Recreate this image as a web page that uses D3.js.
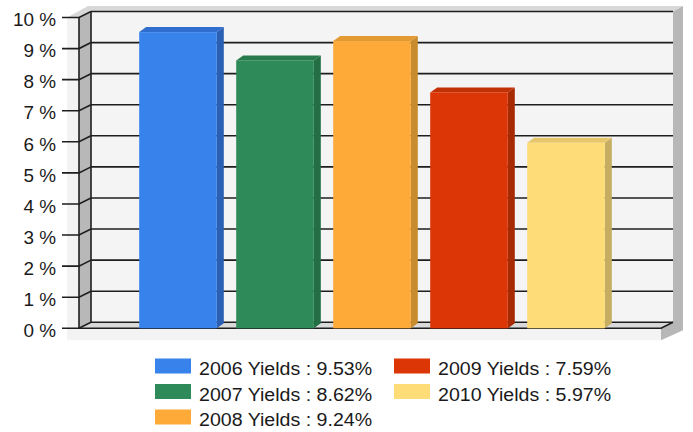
<!DOCTYPE html>
<html>
<head>
<meta charset="utf-8">
<script src="https://cdn.jsdelivr.net/npm/d3@7"></script>
<style>
  body { margin: 0; background: #ffffff; }
  text { font-family: "Liberation Sans", Arial, sans-serif; fill: #1a1a1a; }
</style>
</head>
<body>
<svg id="canvas"></svg>
<script>
// ########## Data ##########
var years = ["2006", "2007", "2008", "2009", "2010"];
var yields = [9.53, 8.62, 9.24, 7.59, 5.97];
var yTicks = [0, 1, 2, 3, 4, 5, 6, 7, 8, 9, 10];
var frontColors = ["#3783eb", "#2e8a58", "#fdaa38", "#dd3606", "#fedd78"];
var topColors   = ["#2f6dcf", "#267a4b", "#e39a33", "#c23005", "#e7c66b"];
var sideColors  = ["#2a5fb3", "#236e44", "#c88b2e", "#a82a04", "#c6ad62"];

var w = 693, h = 432;

// ########## Geometry ##########
var x0 = 79, x1 = 661;          // front edge of plot
var dx = 12, dy = -6;           // depth of back wall
var barDx = 7, barDy = -5;      // depth of bars
var axisScale = 1.08;           // the labels in the picture are wide
var legendScale = 1.12;

var svg = d3.select("#canvas").attr("width", w).attr("height", h);

var y = d3.scaleLinear().domain([0, 10]).range([328.3, 17.5]);
var x = d3.scaleBand().domain(years).range([129.5, 614.5])
    .paddingInner(0.2).paddingOuter(0.1);

var yb = y(0), yt = y(10);

function poly(pts) { return pts.map(function (p) { return p.join(","); }).join(" "); }

// ########## Box around the plot ##########
svg.append("polygon")   // light front panel of base and left side
    .attr("points", poly([[67, yt], [x0, yt], [x0, yb], [x1, yb], [x1, yb + 12], [67, yb + 12]]))
    .attr("fill", "#f3f3f3");

svg.append("polygon")   // top face
    .attr("points", poly([[67, yt], [88, 6], [683, 6], [x1 + dx, yt + dy], [x0 + dx, yt + dy], [x0, yt]]))
    .attr("fill", "#d8d8d8");

svg.append("polygon")   // right face
    .attr("points", poly([[x1 + dx, yt + dy], [683, 6], [683, yb + 2], [x1, yb + 12], [x1, yb], [x1 + dx, yb + dy]]))
    .attr("fill", "#b7b7b7");

svg.append("rect")      // back wall
    .attr("x", x0 + dx).attr("y", yt + dy)
    .attr("width", x1 - x0).attr("height", yb - yt)
    .attr("fill", "#f4f4f4");

svg.append("polygon")   // left wall
    .attr("points", poly([[x0, yt], [x0 + dx, yt + dy], [x0 + dx, yb + dy], [x0, yb]]))
    .attr("fill", "#b8b8b8");

svg.append("polygon")   // floor
    .attr("points", poly([[x0, yb], [x0 + dx, yb + dy], [x1 + dx, yb + dy], [x1, yb]]))
    .attr("fill", "#d9d9d9");

// ########## Grid lines, ticks and labels ##########
var grid = svg.append("g").attr("stroke", "#1e1e1e").attr("stroke-width", 1.6).attr("fill", "none");

grid.selectAll("line.back").data(yTicks).enter().append("line")
    .attr("x1", x0 + dx).attr("x2", x1 + dx)
    .attr("y1", function (d) { return y(d) + dy; })
    .attr("y2", function (d) { return y(d) + dy; });

grid.selectAll("polyline.wall").data(yTicks).enter().append("polyline")
    .attr("points", function (d) { return poly([[62, y(d)], [x0, y(d)], [x0 + dx, y(d) + dy]]); });

grid.append("line").attr("x1", x0).attr("x2", x0).attr("y1", yt).attr("y2", yb);
grid.append("line").attr("x1", x0 + dx).attr("x2", x0 + dx).attr("y1", yt + dy).attr("y2", yb + dy);
grid.append("polyline")
    .attr("points", poly([[x0, yb], [x1, yb], [x1 + dx, yb + dy]]));

svg.selectAll("text.ylab").data(yTicks).enter().append("text")
    .attr("class", "ylab")
    .attr("transform", function (d) { return "translate(56," + (y(d) + 8.7) + ") scale(" + axisScale + ",1)"; })
    .attr("text-anchor", "end")
    .attr("font-size", "17.5px")
    .text(function (d) { return d + " %"; });

// ########## Bars ##########
var bw = x.bandwidth();
var bars = svg.selectAll("g.bar").data(years).enter().append("g").attr("class", "bar");

bars.append("polygon")   // side
    .attr("points", function (d, i) {
        var bx = x(d) + bw, by = y(yields[i]);
        return poly([[bx, by], [bx + barDx, by + barDy], [bx + barDx, yb + barDy], [bx, yb]]);
    })
    .attr("fill", function (d, i) { return sideColors[i]; });

bars.append("polygon")   // top
    .attr("points", function (d, i) {
        var bx = x(d), by = y(yields[i]);
        return poly([[bx, by], [bx + barDx, by + barDy], [bx + bw + barDx, by + barDy], [bx + bw, by]]);
    })
    .attr("fill", function (d, i) { return topColors[i]; });

bars.append("rect")      // front
    .attr("x", function (d) { return x(d); })
    .attr("y", function (d, i) { return y(yields[i]); })
    .attr("width", bw)
    .attr("height", function (d, i) { return yb - y(yields[i]); })
    .attr("fill", function (d, i) { return frontColors[i]; });

// ########## Legend ##########
var legend = svg.selectAll("g.legend").data(years).enter().append("g")
    .attr("class", "legend")
    .attr("transform", function (d, i) {
        var col = Math.floor(i / 3), row = i % 3;
        return "translate(" + (155 + col * 239) + "," + (358.5 + row * 25.5) + ")";
    });

legend.append("rect")
    .attr("width", 36).attr("height", 15)
    .attr("fill", function (d, i) { return frontColors[i]; });

legend.append("text")
    .attr("transform", "translate(44,16.5) scale(" + legendScale + ",1)")
    .attr("font-size", "17.5px")
    .text(function (d, i) { return d + " Yields : " + yields[i].toFixed(2) + "%"; });
</script>
</body>
</html>
